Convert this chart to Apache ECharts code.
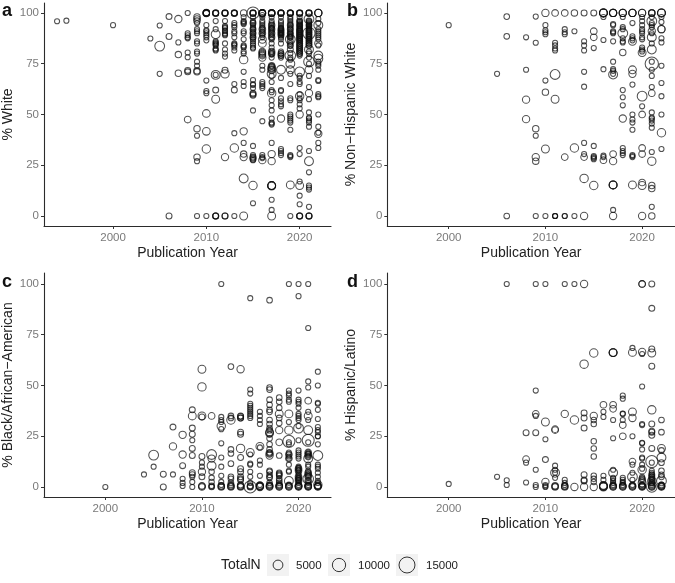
<!DOCTYPE html>
<html><head><meta charset="utf-8">
<style>html,body{margin:0;padding:0;background:#fff}#c{width:675px;height:583px}</style>
<script src="https://cdn.jsdelivr.net/npm/echarts@6/dist/echarts.min.js"></script>
</head><body><div id="c"></div>
<script>
// rows: [year, TotalN, [values]]
const whiteRows = [
[1994,1000,[95.9]],[1995,1000,[96.2]],[2000,1000,[94]],[2004,1000,[87.4]],
[2005,1000,[93.8,70]],[2005,5000,[83.7]],
[2006,1500,[98.2,88.4,0]],
[2007,2500,[97]],[2007,1000,[85.5]],[2007,1800,[79.5,70.3]],
[2008,1000,[100,90,89,88,87.5,80.5,78.2]],[2008,1500,[71.7,71]],[2008,2000,[47.5]],
[2009,1800,[98,97,96,71.5,71,43,29]],[2009,1000,[95,92,91,90,86,85,81,80,76,74,39.5,27,0]],
[2010,1800,[100,100,100,100,99.7,100.2]],[2010,1000,[94,91.5,91,90,89,88,86.5,66.7,61.5,60.5,0]],[2010,2800,[50.5,41.7]],[2010,3500,[33]],
[2011,1500,[100,100,100,99.7,62,0,0,0]],[2011,1000,[96,92,86,85.5,85,84.5,84,82.5,82,81.5,69.5]],[2011,4000,[89.5,69.5]],[2011,3000,[57.5]],
[2012,1500,[100,100,100,99.7,71.8,0,0]],[2012,1000,[96,93.5,93,92.5,91.5,91,90,89.5,89,85,82,80,78.5]],[2012,3500,[70]],[2012,2500,[29]],
[2013,1500,[100,100,100,99.7,62]],[2013,1000,[95,94,93,91,90,88,85,84.5,84,83,81.5,65,40.8,0]],[2013,3500,[33.5]],
[2014,1800,[100,30.5]],[2014,1000,[98,96,95.5,95,94.5,91,90,87,84,83.5,83,81,80,71,66,64,36]],[2014,3500,[77]],[2014,2500,[41.7,29]],[2014,4000,[18.5]],[2014,3000,[0]],
[2015,8000,[100]],[2015,1500,[100,100,100,99.7,95,92,90,88,60.5,60,59.5,29,28.5,28]],[2015,1000,[98,96,95,94,93,92,91,90,89,88,87,86,85,84,83,82.5,67,65,64.5,63,52,34.5,30,27.5,6.3]],[2015,3500,[15]],
[2016,2000,[100,100,100,100,100,99.7,81,80.5,80,79.5,79,92,90]],[2016,1000,[99,98,96,95,94,93,92,91,90,89,88,74,72,66,65,64,63,46.7,30,29,28.5]],[2016,3000,[87,85]],[2016,2500,[78,27.5]],
[2017,1800,[100,100,100,100,100,99.7,94,92,90,88,74,73,72,80,81]],[2017,1000,[98,96,95,94,93,92.5,92,91,90,89,88,87,85,83,81,80,79.5,78,74,69,66,62,61,57,54.5,52,48,46,45.5,45,36,8,3]],[2017,3000,[73,72,15,15,15,14.7,0]],[2017,4000,[70]],[2017,3500,[60.5]],[2017,2500,[30.5,27]],
[2018,1500,[100,100,100,100,99.7,92,91,90,89,80,79]],[2018,1000,[98,96,95,94,93,92.5,92,91.5,91,90.5,90,90,90,89.5,89,88,87,85,81,80,79,78,68,62,61.5,58,56.5,55,54,33,32,31,30]],[2018,4000,[72]],[2018,2500,[48]],
[2019,1500,[100,100,100,100,99.7,94,92,90,88,86,84,82]],[2019,1000,[98,97,96,95,94,93,92,91,90,89.5,89,88.5,88,85,84,80,78,77,70,65,58,57,50,49,48,47,46,42.5,30,29.5,29,0]],[2019,5000,[87]],[2019,6000,[79]],[2019,4000,[75]],[2019,3000,[72,15.3]],
[2020,1500,[100,100,100,99.7,0,0,0,96,94,92,91,90,89,88,87,86,85,84,83,82,81,80]],[2020,1000,[98,96,95.5,95,94.5,94,93.5,93,92.5,92,91.5,91,90.5,90,89.5,89,88.5,88,87.5,87,86.5,86,85,84,83,82,81,80,79,69,68,66,65,60,58,57,55,53,33.5,30.5,17,10,5.8]],[2020,5000,[71]],[2020,3500,[59]],[2020,2500,[50]],[2020,3000,[15]],
[2021,1500,[100,100,100,99.7,0,0,0,96,94,92,91,90,89,88,87,86,85,84]],[2021,5000,[97]],[2021,1000,[96,95.5,95,94.5,94,93.5,93,92.5,92,91.5,91,90.5,89.5,89,88.5,88,87.5,87,86,85,84,81,80,78,75,69,63.5,57.5,51,48.5,48,47,46,44,32,21.5,15,14,13,4.5]],[2021,8000,[90]],[2021,4000,[82,27]],[2021,6000,[76]],[2021,3000,[72]],[2021,2500,[60.5]],
[2022,2500,[100,100,100,85,40.5]],[2022,1000,[97,95,92,91,90,89,88,87,84,76,75,74,72,67,66.5,60,59,58.5,50,44,41,36,33.5]],[2022,4000,[94,79,77.5]]
];
const nonHispanicWhiteRows = [
[2000,1000,[94]],[2005,1000,[70]],[2006,1300,[98.2,88.5,0]],
[2008,1000,[88,72]],[2008,2500,[57.3,47.7]],
[2009,1000,[98.2,85.3,39.5,0]],[2009,1800,[43,27]],[2009,2500,[29]],
[2010,2500,[100]],[2010,1000,[94,91.5,90.5,89.5,66.7,0]],[2010,1800,[61]],[2010,3000,[33]],
[2011,2000,[100]],[2011,1000,[85.3,84,82.5,81.5,0,0,0]],[2011,5000,[69.7]],[2011,3000,[57.5]],
[2012,2000,[100,29]],[2012,1000,[92,90.5,89.5,0,0]],
[2013,1800,[100]],[2013,1000,[91,0]],[2013,3500,[33.5]],
[2014,1500,[100]],[2014,1000,[86,84,81.5,71,63.7,36,30.5]],[2014,2000,[29]],[2014,3500,[18.5]],[2014,2500,[0]],
[2015,1500,[100]],[2015,2000,[91,88]],[2015,1000,[82.7,34.5,29.5,29,28.5,28]],[2015,3500,[15]],
[2016,3000,[100,100,100,100]],[2016,1000,[98,86.7,72.3,29.7,29]],[2016,2000,[27.5]],
[2017,2500,[100,100,100,100,0,27]],[2017,1000,[94.5,94,91,90.5,90,86,76,72.3,71.5,70,3]],[2017,4000,[69.7]],[2017,2000,[30.5]],[2017,3000,[15.3,15.3,15.3]],
[2018,2500,[100,100,100,48]],[2018,1000,[98,93,92,87.5,86,85.5,62,58.5,54.5,33.5,32,31,30]],[2018,5000,[90]],[2018,1800,[80.5]],
[2019,2500,[100,100,100,70]],[2019,1000,[95,88.5,87.5,86.5,64.7,50,47.5,46,42.5,30,29.5,29]],[2019,3000,[86,72,15.3]],
[2020,2500,[100,100,0]],[2020,1000,[98,96,94,92,91,90,88,87,83,82,81,54]],[2020,3000,[80.5,15]],[2020,5000,[59]],[2020,2000,[50,33.5,30.5,16.5]],
[2021,1800,[100,100,100,15,13.5,0]],[2021,1000,[98,95,94,93,90,85,76,72,69,63.5,51,48.5,48,47,45.5,43.5,31.5,4.5]],[2021,5000,[96]],[2021,2500,[91]],[2021,4000,[88,82]],[2021,10000,[75]],[2021,2000,[60.5]],[2021,3500,[27]],
[2022,3000,[100,100,100]],[2022,1000,[98,95.5,87.5,85.5,74,65.5,59,50,33]],[2022,2500,[92,92]],[2022,3500,[41]]
];
const blackRows = [
[2000,1000,[0]],[2004,1000,[6.2]],[2005,5000,[15.7]],[2005,1000,[10]],[2006,1500,[6.3,0]],
[2007,1500,[29.5]],[2007,2500,[20]],[2007,1000,[6.2]],
[2008,2500,[25.7,16]],[2008,1500,[10.5]],[2008,1000,[4,2,0.5]],
[2009,1500,[38,29,26,19,15.5,7,6]],[2009,3000,[35]],[2009,1000,[23,5,2.5,0]],
[2010,3000,[58,35]],[2010,3500,[49.3]],[2010,1500,[34.5,15,5]],[2010,1000,[12,10]],[2010,2500,[7.5]],[2010,2000,[0,0.3,0.6]],
[2011,2000,[35]],[2011,5000,[16]],[2011,2500,[14]],[2011,4000,[10.5]],[2011,1200,[7.5,4.5,2.5,0,0.3,0.6]],
[2012,1000,[100,34.5,33,32,28.5,21.5,14.5,10,5.5,2.5,1]],[2012,3500,[30]],[2012,1800,[0,0.3,0.6]],
[2013,1300,[59.3,35,34,18.5,16.5,11.5,5,4,2,1]],[2013,3500,[33]],[2013,1800,[0,0.3,0.6]],
[2014,2500,[58]],[2014,1500,[35,34.7,34,34,27,26,14.5,9,7.5,5,4,3.5,1]],[2014,3500,[19]],[2014,1800,[0,0.3,0.6]],
[2015,1000,[93,48,46,41,40,39,38,37,36,35,34,16,11.5,11,7.5,5,2]],[2015,3000,[17]],[2015,8000,[0]],[2015,1500,[0,0.3,0.6]],
[2016,1000,[37,35,33,31,19.5,13,11,5.5,1]],[2016,3000,[20]],[2016,2500,[0,0.2,0.4,0.6,0.8]],
[2017,1300,[92,49,48,43,40.5,38,37,33,31,29,28,26,24,21,18.5,17,16.5,8,7.5,6,5,4.5,2,1]],[2017,3000,[27,26.5]],[2017,2500,[15.5,16.5]],[2017,2000,[0,0.2,0.5,0.8]],
[2018,1300,[44,42,39,34,31.5,15.5,7,6.5,6,5.5,4,3,2,1]],[2018,3000,[36]],[2018,2500,[28]],[2018,2000,[22,0,0.2,0.5,0.8]],
[2019,1000,[100,47.5,46,45,43,42,32,22,21,17,16,15,14,11,8,7.5,1]],[2019,3000,[36]],[2019,3500,[28]],[2019,8000,[22.5]],[2019,4000,[3]],[2019,2000,[0,0.2,0.5,0.8,16,14]],
[2020,1000,[100,94,47.5,43,42,41,39,36,35,34,33,30,23,18,17,16,15,14,10,9.5,9,8.5,8,7,6,5,4.5,4,3.5,3,2,1]],[2020,5000,[29]],[2020,2000,[0,0.2,0.4,0.6,0.8,9,8,5,4,3]],
[2021,1000,[100,78.3,52,49,37,33,22,17,16.5,16,15,11,10,8,7,6,5,3,2,1]],[2021,2000,[42.5,17,16,15,7,6,5,3]],[2021,3000,[35]],[2021,4000,[28,14]],[2021,8000,[23]],[2021,6000,[4]],[2021,2000,[0,0.2,0.4,0.6,0.8]],
[2022,1000,[56.8,50,41.5,41,38,33.5,29.5,28,27,25,25,21,11,10,9,7,5,3,2]],[2022,5000,[15.5]],[2022,3500,[1]],[2022,2000,[0,0.2,0.4,0.6,0.8]]
];
const hispanicRows = [
[2000,1000,[1.5]],[2005,1000,[5]],[2006,1000,[100,3.3,1]],
[2008,1500,[26.7]],[2008,2000,[13.7]],[2008,1000,[12,2.2]],
[2009,1000,[100,47.5,35,8.5,1,0]],[2009,2000,[36]],[2009,1500,[26.7]],
[2010,1000,[100,23.5,1,0,0.4]],[2010,3000,[32]],[2010,1500,[13.5]],[2010,2500,[2.5]],
[2011,2000,[28.5,28]],[2011,1000,[10.5,8.5,7,4.5]],[2011,4000,[7]],[2011,1800,[0,0.3,0.6]],
[2012,1000,[100,3.5,2,1]],[2012,2500,[36]],[2012,1800,[0,0.3,0.6]],
[2013,1000,[100]],[2013,3500,[33]],[2013,2500,[0]],
[2014,2500,[100,0]],[2014,3500,[60.5]],[2014,1500,[36.5,34,29,6,3.5,3]],
[2015,3500,[66]],[2015,2500,[35,0]],[2015,1200,[33,31,22.5,19,15,5.5,4,2.5]],
[2016,2000,[40.5]],[2016,1000,[37,34.5,5.5,3.5]],[2016,3000,[0,0.2,0.4,0.6,0.8]],
[2017,3000,[66.2,66.2,66.2]],[2017,2000,[40.5,38.5]],[2017,1000,[33,24,8.5,4.5,4,3,2,1]],[2017,4000,[7]],[2017,2000,[0,0.2,0.5,0.8]],
[2018,1000,[45,43.5,36.2,36,33,4.5,3.5,2.5,2,1]],[2018,2000,[30.5,25]],[2018,2000,[0,0.2,0.5,0.8]],
[2019,1000,[68.5,25,11,7,3.5,1]],[2019,3000,[66.3,37]],[2019,2500,[34]],[2019,2000,[12.5]],[2019,5000,[5]],[2019,2000,[0,0.2,0.5,0.8]],
[2020,2000,[100,100,0,0.2,0.4,0.6,0.8,4,3]],[2020,2500,[66.5]],[2020,1000,[65.5,49.5,31,30.5,21.8,21.5,18.5,14.5,14,11,9,5,4,1]],[2020,3500,[8.5]],[2020,3000,[2]],
[2021,1500,[100,88,68,59.5,31,27.5,27,25.5,19,6,5,4,3,2]],[2021,3000,[66]],[2021,3500,[38,3]],[2021,8000,[12.5]],[2021,1000,[12,8,7,6,5,4,2,1]],[2021,6000,[0]],[2021,2000,[0,0.2,0.5,0.8]],
[2022,1300,[33,27,18,12,8,6,5,1]],[2022,3000,[19]],[2022,4000,[14.5]],[2022,5000,[3]],[2022,2000,[0,0.2,0.4,0.6,0.8]]
];
const yearTicks = [2000,2010,2020];
const percentTicks = [0,25,50,75,100];
const legendSizes = [5000,10000,15000];

const INK = 'rgba(15,15,15,0.9)';
const sizeOf = n => Math.sqrt(n) * 0.12 + 1.3;
const toPoints = rows => rows.flatMap(([y,n,vs]) => vs.map(v => [y,v,n]));

const panels = [
 {tag:'a',name:'% White',rows:whiteRows,grid:{left:44,top:3,width:287,height:223},x:[1992.6,2023.36],y:[-4.93,104.9],tx:2,ty:11},
 {tag:'b',name:'% Non\u2212Hispanic White',rows:nonHispanicWhiteRows,grid:{left:387.3,top:3,width:287.7,height:223},x:[1993.65,2023.4],y:[-4.93,104.9],tx:347,ty:11},
 {tag:'c',name:'% Black/African\u2212American',rows:blackRows,grid:{left:44,top:273,width:287,height:224},x:[1993.65,2023.36],y:[-4.93,105.4],tx:2,ty:282},
 {tag:'d',name:'% Hispanic/Latino',rows:hispanicRows,grid:{left:387.3,top:273,width:287.7,height:224},x:[1993.65,2023.4],y:[-4.93,105.4],tx:347,ty:282}
];
const F = '"Liberation Sans",Arial,sans-serif';
const axisCommon = {
  axisLine:{show:true,onZero:false,lineStyle:{color:'#2b2b2b',width:1.1}},
  axisTick:{show:true,length:3,lineStyle:{color:'#333',width:1}},
  splitLine:{show:false},
  nameTextStyle:{color:'#222',fontFamily:F,fontSize:14}
};
const grid=[],xAxis=[],yAxis=[],series=[],graphic=[];
panels.forEach((p,i)=>{
  grid.push(p.grid);
  xAxis.push(Object.assign({},axisCommon,{gridIndex:i,type:'value',min:p.x[0],max:p.x[1],
    name:'Publication Year',nameLocation:'middle',nameGap:20,
    axisTick:Object.assign({},axisCommon.axisTick,{customValues:yearTicks}),
    axisLabel:{customValues:yearTicks,formatter:v=>String(v),color:'#7a7a7a',fontFamily:F,fontSize:11.5,margin:6}}));
  yAxis.push(Object.assign({},axisCommon,{gridIndex:i,type:'value',min:p.y[0],max:p.y[1],
    name:p.name,nameLocation:'middle',nameGap:29,
    axisTick:Object.assign({},axisCommon.axisTick,{customValues:percentTicks}),
    axisLabel:{customValues:percentTicks,formatter:v=>String(v),color:'#7a7a7a',fontFamily:F,fontSize:11.5,margin:5}}));
  series.push({type:'scatter',xAxisIndex:i,yAxisIndex:i,data:toPoints(p.rows),
    symbol:'circle',symbolSize:d=>sizeOf(d[2]),silent:true,animation:false,clip:false,large:false,
    itemStyle:{color:'rgba(0,0,0,0)',borderColor:INK,borderWidth:1.05}});
  graphic.push({type:'text',left:p.tx,top:p.ty-9,style:{text:p.tag,font:'bold 18px '+F,fill:'#111'}});
});
// legend
graphic.push({type:'text',left:221,top:558,style:{text:'TotalN',font:'14px '+F,fill:'#222'}});
const keyX=[267,328,396], labelX=[296,358,426];
legendSizes.forEach((n,i)=>{
  graphic.push({type:'rect',shape:{x:keyX[i],y:554,width:22,height:22},style:{fill:'#f2f2f2'},silent:true});
  graphic.push({type:'circle',shape:{cx:keyX[i]+11,cy:565,r:sizeOf(n)/2},style:{fill:'none',stroke:'#333',lineWidth:1},silent:true});
  graphic.push({type:'text',left:labelX[i],top:560,style:{text:String(n),font:'11.5px '+F,fill:'#222'}});
});
const chart = echarts.init(document.getElementById('c'),null,{renderer:'canvas'});
chart.setOption({animation:false,backgroundColor:'#fff',grid,xAxis,yAxis,series,graphic});
</script></body></html>
